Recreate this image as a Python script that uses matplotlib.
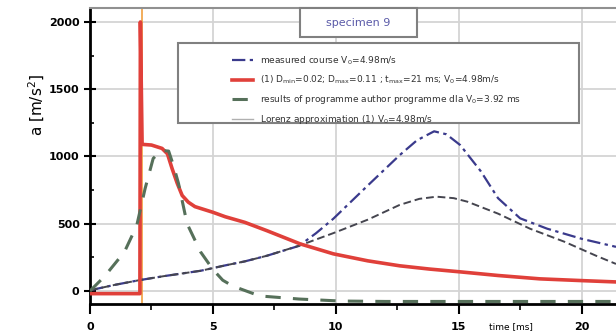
import numpy as np
import matplotlib.pyplot as plt
from matplotlib.lines import Line2D
from matplotlib.patches import Rectangle
from matplotlib.ticker import MultipleLocator

plt.rcParams['mathtext.default'] = 'regular'

# red model curve (1)
t_model = [0, 2.03, 2.05, 2.12, 2.5, 2.93, 3.15, 3.34, 3.55, 3.75, 4.0, 4.27, 5.0, 5.5,
           6.3, 7.2, 8.55, 9.9, 11.3, 12.6, 13.8, 15.06, 16.6, 18.3, 20.0, 21.4]
a_model = [-20, -20, 2000, 1090, 1085, 1060, 1020, 910, 800, 710, 660, 627, 585, 552,
           510, 448, 350, 276, 224, 187, 163, 142, 115, 90, 77, 67]

# results of programme (green dashed)
t_prog = [0, 0.6, 1.4, 1.9, 2.24, 2.57, 2.9, 3.2, 3.4, 3.6, 3.95, 4.5, 5.0, 5.4, 5.8,
          6.9, 8.5, 10.2, 12.0, 15.0, 21.4]
a_prog = [0, 110, 290, 485, 760, 985, 1045, 1040, 930, 800, 500, 290, 160, 80, 37,
          -37, -60, -75, -78, -78, -78]

# measured course (dash-dot)
t_meas = [0, 1, 2, 3, 4.5, 5.5, 6.3, 7.2, 8.5, 9.2, 9.9, 11.3, 12.6, 13.3, 14.0, 14.5,
          15.06, 15.9, 16.6, 17.5, 18.6, 20.0, 21.4]
a_meas = [5, 45, 80, 110, 150, 190, 220, 262, 335, 430, 537, 784, 1010, 1120, 1187, 1165,
          1085, 890, 690, 540, 463, 388, 328]

# Lorenz approximation (lower bell)
t_lor = [0, 1, 2, 3, 4.5, 5.5, 6.3, 7.2, 8.5, 9.9, 11.3, 12.6, 13.4, 14.1, 14.8, 15.35,
         16.6, 17.9, 19.3, 20.6, 21.4]
a_lor = [5, 45, 80, 110, 150, 190, 220, 262, 336, 430, 530, 640, 685, 701, 690, 664,
         575, 463, 366, 261, 201]

labels = [r"measured course $V_0$=4.98m/s",
          r"(1) $D_{min}$=0.02; $D_{max}$=0.11 ; $t_{max}$=21 ms; $V_0$=4.98m/s",
          r"results of programme author programme dla $V_0$=3.92 ms",
          r"Lorenz approximation (1) $V_0$=4.98m/s"]

fig = plt.figure(figsize=(6.16, 3.34), dpi=100)
ax = fig.add_axes([90/616, 30/334, 526/616, 296/334])

ax.grid(True, color='#d4d4d4', lw=1.3)
ax.set_axisbelow(True)
ax.axvline(2.1, color='#f0a040', lw=1.2, zorder=1)

l_meas, = ax.plot(t_meas, a_meas, color='#3a3a8c', lw=1.6, dashes=(6, 2, 1.5, 2), zorder=3)
l_model, = ax.plot(t_model, a_model, color='#e0403a', lw=2.6, zorder=4)
l_prog, = ax.plot(t_prog, a_prog, color='#56705a', lw=2.2, dashes=(5, 4), zorder=5)
ax.plot(t_lor, a_lor, color='#45454f', lw=1.4, dashes=(4, 2), zorder=3)
l_lor = Line2D([], [], color='#b0b0b0', lw=1)

ax.set_xlim(0, 21.4)
ax.set_ylim(-97, 2104)
ax.xaxis.set_major_locator(MultipleLocator(5))
ax.xaxis.set_minor_locator(MultipleLocator(2.5))
ax.yaxis.set_major_locator(MultipleLocator(500))
ax.yaxis.set_minor_locator(MultipleLocator(250))
ax.tick_params(axis='x', which='major', direction='out', length=7, width=1.5,
               labelsize=8, pad=6)
ax.tick_params(axis='x', which='minor', direction='out', length=4, width=1.2)
ax.tick_params(axis='y', which='major', direction='inout', length=8, width=1.5,
               labelsize=8)
ax.tick_params(axis='y', which='minor', direction='in', length=3, width=1.2)
for lab in ax.get_xticklabels() + ax.get_yticklabels():
    lab.set_fontweight('bold')
ax.spines['left'].set_linewidth(2)
ax.spines['bottom'].set_linewidth(2)
ax.spines['top'].set_color('#909090')
ax.spines['top'].set_linewidth(1.5)
ax.spines['right'].set_visible(False)

fig.text(37/616, 1 - 105/334, 'a [m/s$^2$]', rotation=90, ha='center', va='center',
         fontsize=11)
fig.text(511/616, 1 - 327/334, 'time [ms]', ha='center', va='center', fontsize=6.5)

# legend with its own frame
fig.patches.append(Rectangle((178/616, 1 - 123/334), 401/616, 80/334,
                             transform=fig.transFigure, fill=True, facecolor='white',
                             edgecolor='#808080', lw=1.5, zorder=6))
leg = fig.legend([l_meas, l_model, l_prog, l_lor], labels, loc='upper left',
                 bbox_to_anchor=(228/616, 1 - 51/334), frameon=False, fontsize=6.5,
                 handlelength=2.4, labelspacing=0.75, borderaxespad=0,
                 labelcolor='#333333')
leg.set_zorder(7)

# title box
fig.patches.append(Rectangle((300/616, 1 - 37/334), 117/616, 29/334,
                             transform=fig.transFigure, facecolor='white',
                             edgecolor='#808080', lw=1.5, zorder=6))
fig.text(358/616, 1 - 23/334, 'specimen 9', ha='center', va='center', fontsize=8,
         color='#5a5aa8', zorder=7)

fig.savefig('out.png', dpi=100)
